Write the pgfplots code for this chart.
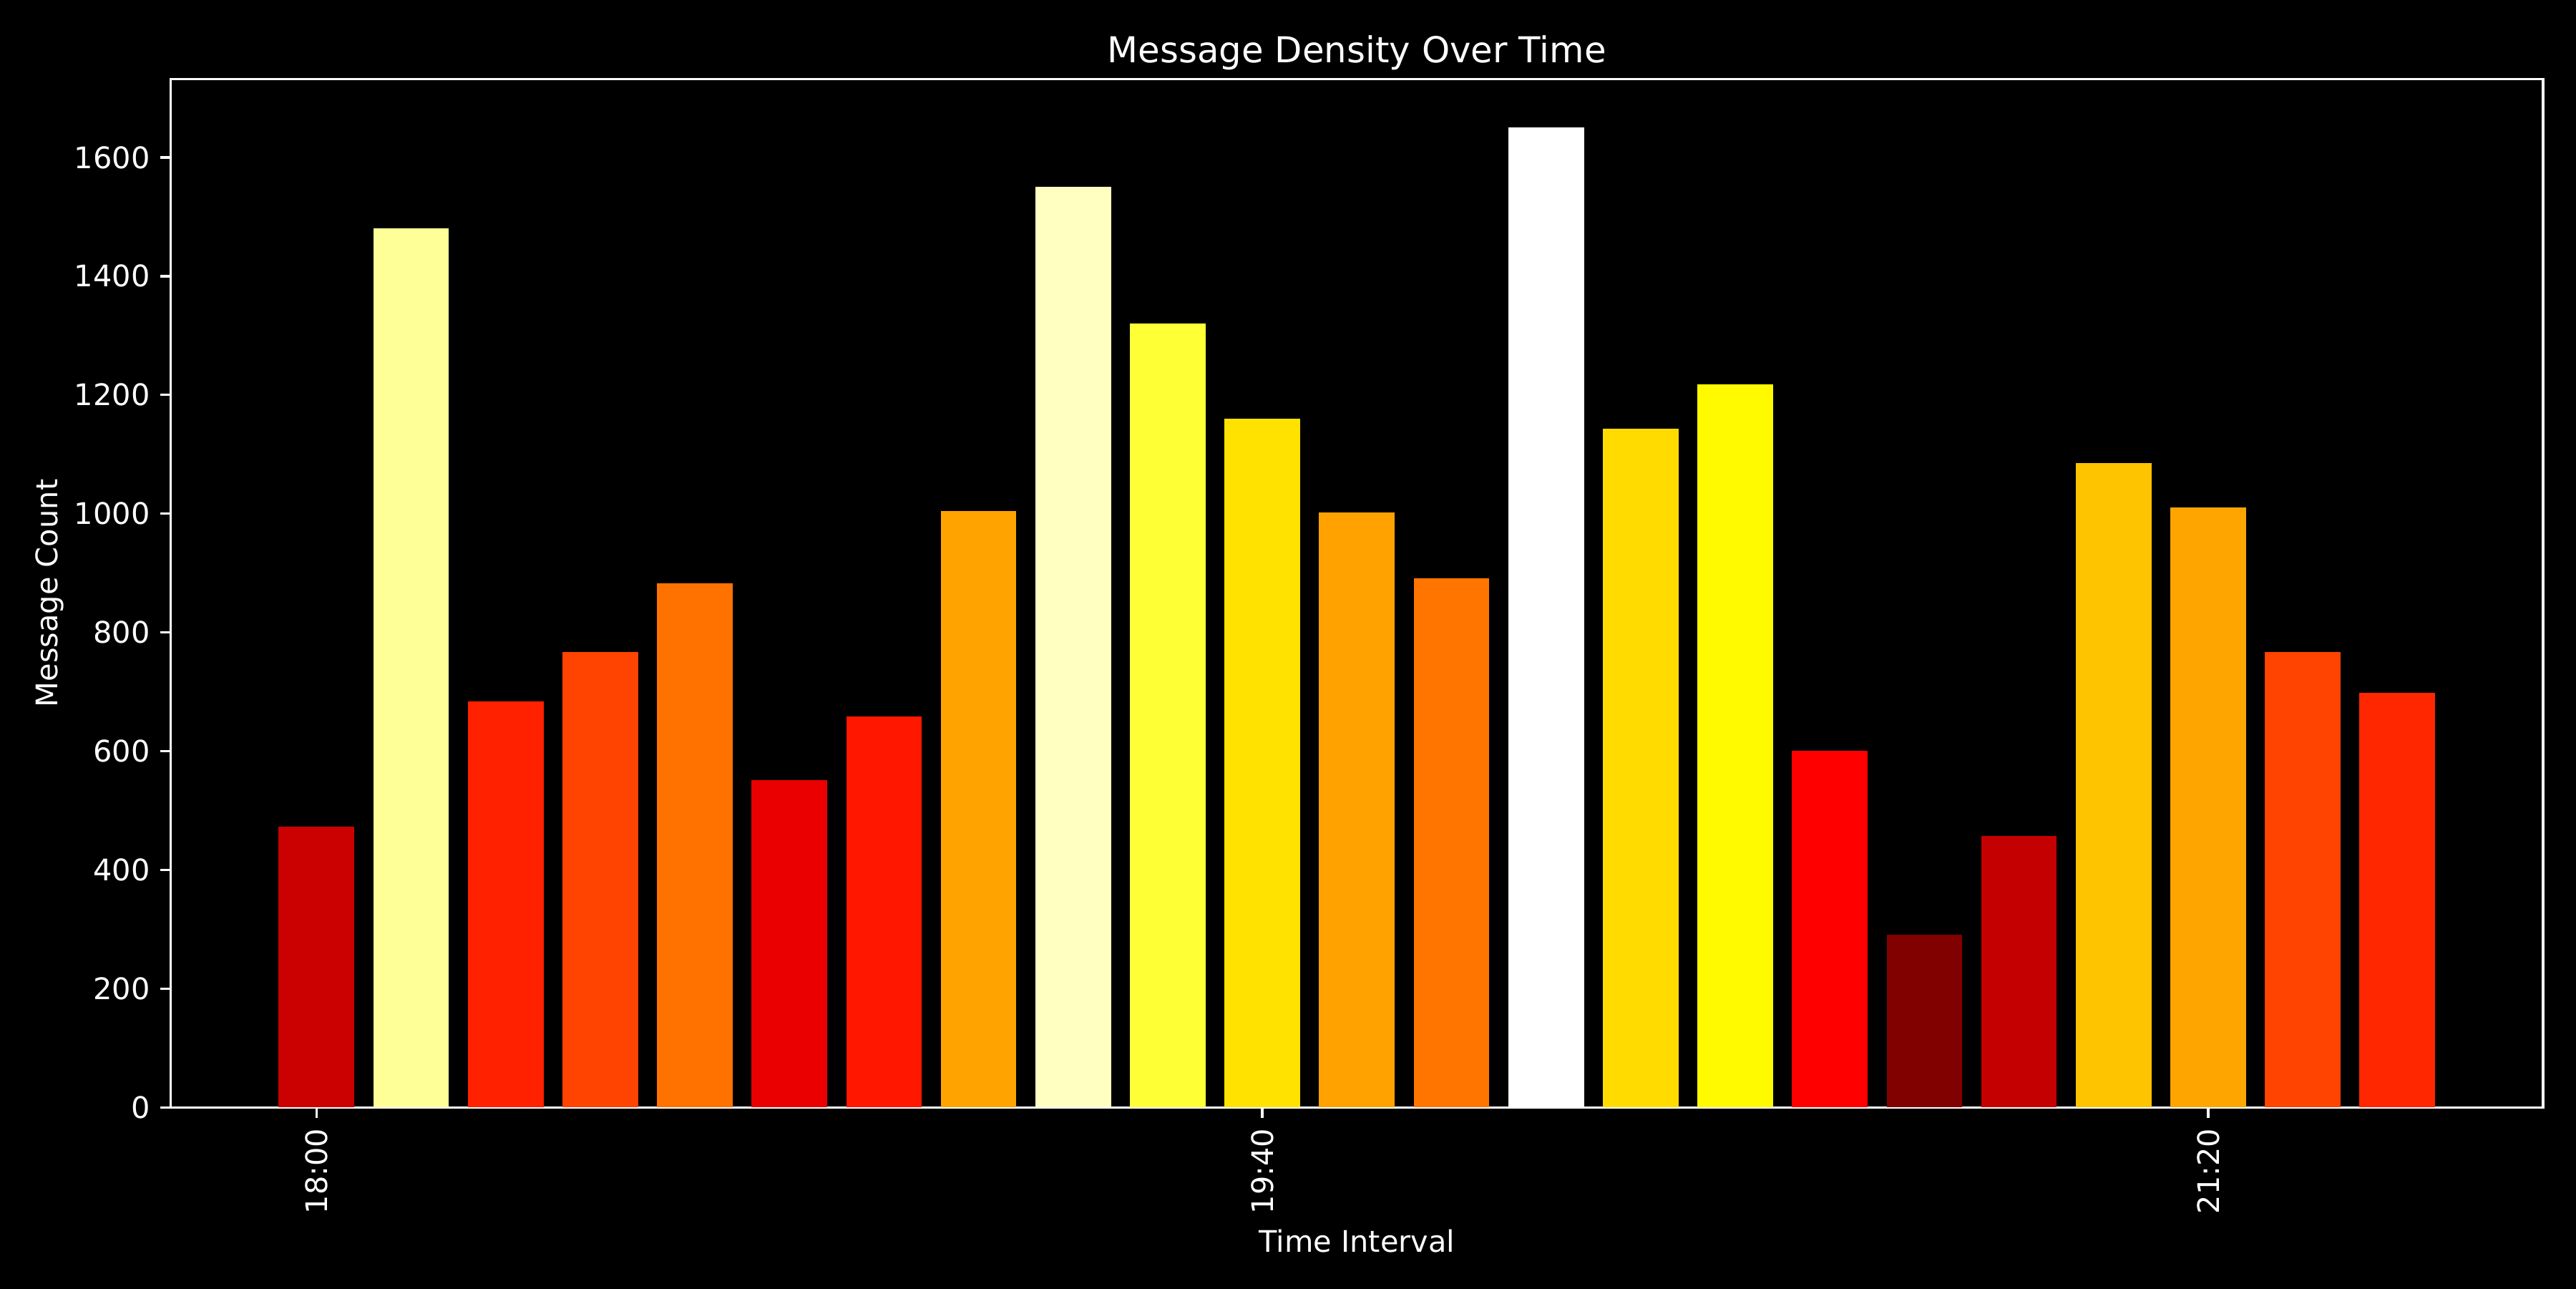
\documentclass[border=0pt]{standalone}
\usepackage{fontspec}
\setmainfont{DejaVu Sans}
\usepackage{pgfplots}
\pgfplotsset{compat=1.18}

% bar colours from the "hot" colormap, scaled by count / max count
\definecolor{b00}{RGB}{203,0,0}
\definecolor{b01}{RGB}{255,255,152}
\definecolor{b02}{RGB}{255,33,0}
\definecolor{b03}{RGB}{255,67,0}
\definecolor{b04}{RGB}{255,114,0}
\definecolor{b05}{RGB}{234,0,0}
\definecolor{b06}{RGB}{255,23,0}
\definecolor{b07}{RGB}{255,163,0}
\definecolor{b08}{RGB}{255,255,194}
\definecolor{b09}{RGB}{255,255,54}
\definecolor{b10}{RGB}{255,226,0}
\definecolor{b11}{RGB}{255,162,0}
\definecolor{b12}{RGB}{255,117,0}
\definecolor{b13}{RGB}{255,255,255}
\definecolor{b14}{RGB}{255,219,0}
\definecolor{b15}{RGB}{255,250,0}
\definecolor{b16}{RGB}{255,0,0}
\definecolor{b17}{RGB}{129,0,0}
\definecolor{b18}{RGB}{196,0,0}
\definecolor{b19}{RGB}{255,196,0}
\definecolor{b20}{RGB}{255,165,0}
\definecolor{b21}{RGB}{255,67,0}
\definecolor{b22}{RGB}{255,39,0}

\newcommand{\countbar}[3]{\addplot[ybar, bar width=0.8, bar shift=0pt, fill=#3, draw=none] coordinates {(#1,#2)};}

\begin{document}
\begin{tikzpicture}
\useasboundingbox (-0.796in,-0.842in) rectangle (11.204in,5.158in);
\fill[black] (-1in,-1in) rectangle (12in,6in);
\begin{axis}[
  at={(0,0)}, anchor=south west,
  scale only axis,
  width=11.05in, height=4.79in,
  xmin=-1.54, xmax=23.54,
  ymin=0, ymax=1732,
  axis background/.style={fill=black},
  axis line style={white, line width=0.8pt},
  every tick/.style={white, line width=0.8pt},
  tick align=outside,
  major tick length=3.5pt,
  xtick pos=bottom, ytick pos=left,
  xtick={0,10,20},
  xticklabels={18:00,19:40,21:20},
  x tick label style={rotate=90, anchor=east, font=\fontsize{10}{12}\selectfont, text=white},
  ytick={0,200,...,1600},
  y tick label style={font=\fontsize{10}{12}\selectfont, text=white},
  /pgf/number format/assume math mode=true,
  /pgf/number format/1000 sep={},
  xlabel={Time Interval},
  ylabel={Message Count},
  xlabel shift=-1.7pt,
  ylabel shift=-3.3pt,
  xlabel style={font=\fontsize{10}{12}\selectfont, text=white},
  ylabel style={font=\fontsize{10}{12}\selectfont, text=white},
  title={Message Density Over Time},
  title style={font=\fontsize{12}{14}\selectfont, text=white, yshift=-6.6pt},
]
\countbar{0}{473}{b00}
\countbar{1}{1481}{b01}
\countbar{2}{684}{b02}
\countbar{3}{767}{b03}
\countbar{4}{883}{b04}
\countbar{5}{551}{b05}
\countbar{6}{659}{b06}
\countbar{7}{1005}{b07}
\countbar{8}{1550}{b08}
\countbar{9}{1320}{b09}
\countbar{10}{1160}{b10}
\countbar{11}{1002}{b11}
\countbar{12}{891}{b12}
\countbar{13}{1650}{b13}
\countbar{14}{1143}{b14}
\countbar{15}{1218}{b15}
\countbar{16}{601}{b16}
\countbar{17}{291}{b17}
\countbar{18}{457}{b18}
\countbar{19}{1085}{b19}
\countbar{20}{1010}{b20}
\countbar{21}{767}{b21}
\countbar{22}{698}{b22}
\end{axis}
\end{tikzpicture}
\end{document}
